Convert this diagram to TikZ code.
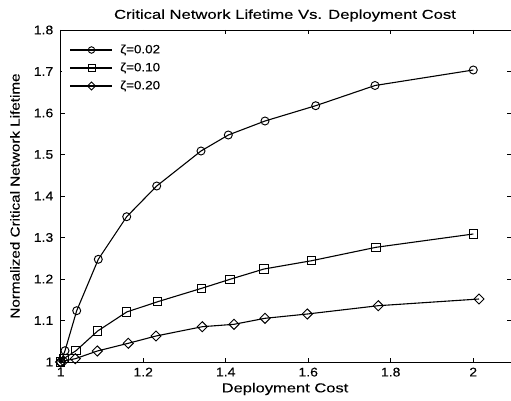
\documentclass[tikz,border=0pt]{standalone}
\usepackage{fontspec}
\setmainfont{Liberation Sans}[FakeBold=0.1]
\usetikzlibrary{shapes.geometric}
\newcommand{\wide}[2]{\scalebox{#1}[1]{#2}}
\begin{document}
\begin{tikzpicture}[x=1pt,y=-1pt,
  ser/.style={line width=1.1pt},
  mcirc/.style={circle,draw,line width=0.95pt,minimum size=8pt,inner sep=0pt},
  msq/.style={rectangle,draw,line width=0.95pt,minimum size=8.5pt,inner sep=0pt},
  mdia/.style={diamond,draw,line width=0.95pt,minimum size=10.5pt,inner sep=0pt},
  lcirc/.style={mcirc,minimum size=6.5pt},
  lsq/.style={msq,minimum size=7pt},
  ldia/.style={mdia,minimum size=8.5pt},
  axline/.style={line width=0.7pt},
  axtick/.style={line width=0.6pt},
  lab/.style={font=\fontsize{12.5}{14}\selectfont, inner sep=0pt},
  biglab/.style={font=\fontsize{13}{15}\selectfont, inner sep=0pt},
  leglab/.style={font=\fontsize{12}{14}\selectfont, inner sep=0pt, anchor=west}]
\useasboundingbox (0,0) rectangle (511,401);
\fill[white] (0,0) rectangle (511,401);

% ticks and tick labels
\foreach \i in {0,...,8}{
  \pgfmathsetmacro{\yy}{362-\i*41.5}
  \draw[axtick] (60.7,\yy) -- (64.7,\yy);
  \draw[axtick] (511,\yy) -- (507,\yy);
  \ifnum\i=0
    \node[lab,anchor=east] (yl\i) at (53.5,\yy) {\wide{1.12}{1}};
  \else
    \node[lab,anchor=east] (yl\i) at (53.5,\yy) {\wide{1.12}{1.\i}};
  \fi
}
\foreach \k/\t in {0/1,1/1.2,2/1.4,3/1.6,4/1.8,5/2}{
  \pgfmathsetmacro{\xx}{60.7+\k*82.5}
  \draw[axtick] (\xx,362) -- (\xx,358);
  \draw[axtick] (\xx,30) -- (\xx,34);
  \node[lab,anchor=north] (xl\k) at (\xx,367.5) {\wide{1.12}{\t}};
}
\draw[axline] (511,30) -- (60.7,30) -- (60.7,362) -- (511,362);

% titles
\node[biglab] (title) at (285,15.5) {\wide{1.28}{Critical Network Lifetime Vs. Deployment Cost}};
\node[biglab] (xlabel) at (285,389) {\wide{1.27}{Deployment Cost}};
\node[biglab,rotate=90] (ylabel) at (15,196) {\wide{1.17}{Normalized Critical Network Lifetime}};

% series zeta=0.02 (circles)
\foreach \n/\px/\py in {1/60.7/362,2/65/350.7,3/76.7/310.7,4/98.3/259.3,5/126.7/216.7,6/156.7/186,7/201/151,8/228.3/135,9/265/121,10/315.7/105.7,11/375/85.5,12/473.3/70}
  \coordinate (c\n) at (\px,\py);
\draw[ser] (c1) -- (c2) -- (c3) -- (c4) -- (c5) -- (c6) -- (c7) -- (c8) -- (c9) -- (c10) -- (c11) -- (c12);
\foreach \n in {1,...,12} \node[mcirc] (mc\n) at (c\n) {};

% series zeta=0.10 (squares)
\foreach \n/\px/\py in {1/60.7/362,2/64/358.5,3/76/350.7,4/97.7/331,5/126.7/312,6/157.7/301.7,7/201.7/288.3,8/230/279.3,9/264/269,10/311.7/260.7,11/376/247.3,12/473.3/234}
  \coordinate (s\n) at (\px,\py);
\draw[ser] (s1) -- (s2) -- (s3) -- (s4) -- (s5) -- (s6) -- (s7) -- (s8) -- (s9) -- (s10) -- (s11) -- (s12);
\foreach \n in {1,...,12} \node[msq] (ms\n) at (s\n) {};

% series zeta=0.20 (diamonds)
\foreach \n/\px/\py in {1/60.7/362,2/63.5/361,3/75.3/358.7,4/97.3/351,5/128.3/343.3,6/156/336,7/202.3/326.7,8/234/324.3,9/265/318.3,10/307.3/314,11/378.3/305.7,12/479/299}
  \coordinate (d\n) at (\px,\py);
\draw[ser] (d1) -- (d2) -- (d3) -- (d4) -- (d5) -- (d6) -- (d7) -- (d8) -- (d9) -- (d10) -- (d11) -- (d12);
\foreach \n in {1,...,12} \node[mdia] (md\n) at (d\n) {};

% legend
\fill[white] (62,31.5) rectangle (172,100);
\coordinate (la1) at (70,50); \coordinate (lb1) at (111.5,50);
\coordinate (la2) at (70,68); \coordinate (lb2) at (111.5,68);
\coordinate (la3) at (70,86); \coordinate (lb3) at (111.5,86);
\draw[ser] (la1) -- (lb1);
\draw[ser] (la2) -- (lb2);
\draw[ser] (la3) -- (lb3);
\node[lcirc] (lm1) at (91.5,50) {};
\node[lsq] (lm2) at (91.5,68) {};
\node[ldia] (lm3) at (91.5,86) {};
\node[leglab] (lt1) at (120,50) {\wide{1.12}{ζ=0.02}};
\node[leglab] (lt2) at (120,68) {\wide{1.12}{ζ=0.10}};
\node[leglab] (lt3) at (120,86) {\wide{1.12}{ζ=0.20}};
\end{tikzpicture}
\end{document}
